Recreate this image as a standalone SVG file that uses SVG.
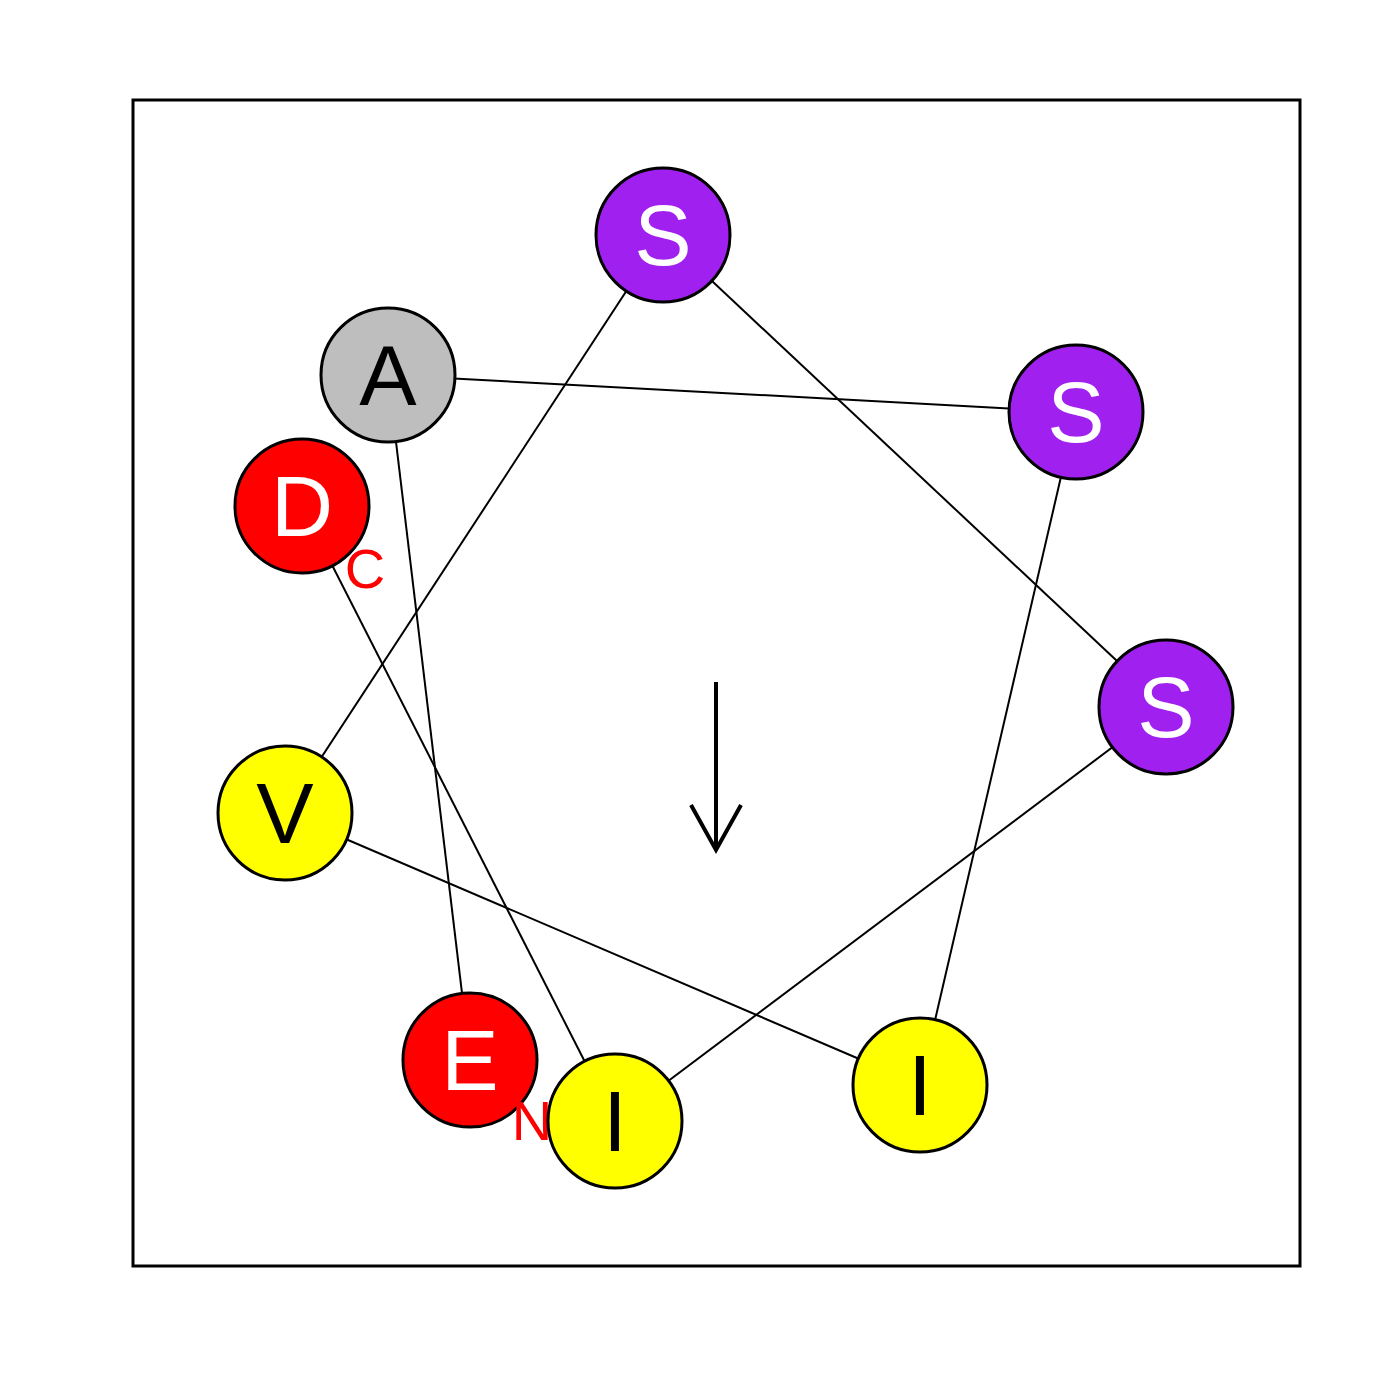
<svg xmlns="http://www.w3.org/2000/svg" width="1400" height="1400" viewBox="0 0 1400 1400">
<style>
.bg{fill:#fff}
.frame{fill:none;stroke:#000;stroke-width:3}
.c{stroke:#000;stroke-width:3}
.lk{stroke:#000;stroke-width:2;fill:none}
.t{font-family:"Liberation Sans",Arial,sans-serif;font-size:86px;text-anchor:middle}
.term{font-family:"Liberation Sans",Arial,sans-serif;font-size:56px;fill:#f00;text-anchor:middle}
.pu{fill:#A020F0}.gr{fill:#BEBEBE}.rd{fill:#FF0000}.ye{fill:#FFFF00}
.w{fill:#fff}.b{fill:#000}
</style>
<rect class="bg" width="1400" height="1400"/>
<rect class="frame" x="133" y="100" width="1167" height="1166"/>
<g id="connectors">
<line class="lk" x1="470" y1="1060" x2="388" y2="375"/>
<line class="lk" x1="388" y1="375" x2="1076" y2="412"/>
<line class="lk" x1="1076" y1="412" x2="920" y2="1085"/>
<line class="lk" x1="920" y1="1085" x2="285" y2="813"/>
<line class="lk" x1="285" y1="813" x2="663" y2="235"/>
<line class="lk" x1="663" y1="235" x2="1166" y2="707"/>
<line class="lk" x1="1166" y1="707" x2="615" y2="1121"/>
<line class="lk" x1="615" y1="1121" x2="302" y2="506"/>
</g>
<g id="arrow">
<line x1="716" y1="682" x2="716" y2="850" stroke="#000" stroke-width="4"/>
<polyline points="691,805 716,850 741,805" fill="none" stroke="#000" stroke-width="4"/>
</g>
<g id="n1-E"><circle class="c rd" cx="470" cy="1060" r="67"/><text class="t w" x="470" y="1090">E</text></g>
<g id="label-N"><text class="term" x="532" y="1140">N</text></g>
<g id="n2-A"><circle class="c gr" cx="388" cy="375" r="67"/><text class="t b" x="388" y="405">A</text></g>
<g id="n3-S"><circle class="c pu" cx="1076" cy="412" r="67"/><text class="t w" x="1076" y="442">S</text></g>
<g id="n4-I"><circle class="c ye" cx="920" cy="1085" r="67"/><text class="t b" x="920" y="1115">I</text></g>
<g id="n5-V"><circle class="c ye" cx="285" cy="813" r="67"/><text class="t b" x="285" y="843">V</text></g>
<g id="n6-S"><circle class="c pu" cx="663" cy="235" r="67"/><text class="t w" x="663" y="265">S</text></g>
<g id="n7-S"><circle class="c pu" cx="1166" cy="707" r="67"/><text class="t w" x="1166" y="737">S</text></g>
<g id="n8-I"><circle class="c ye" cx="615" cy="1121" r="67"/><text class="t b" x="615" y="1151">I</text></g>
<g id="n9-D"><circle class="c rd" cx="302" cy="506" r="67"/><text class="t w" x="302" y="536">D</text></g>
<g id="label-C"><text class="term" x="365" y="588">C</text></g>
</svg>
